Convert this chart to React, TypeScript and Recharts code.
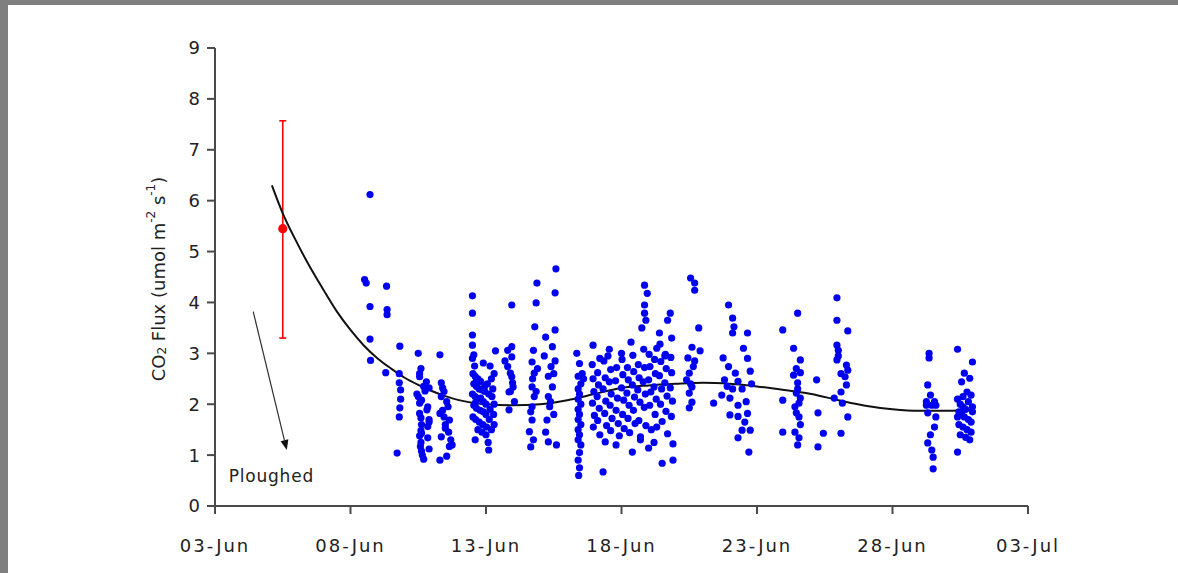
import React from 'react';
import {
  ComposedChart,
  Scatter,
  Line,
  XAxis,
  YAxis,
  ErrorBar,
  ReferenceLine,
  ReferenceDot,
} from 'recharts';

// x values are days after 03-Jun
const dayTicks = [0, 5, 10, 15, 20, 25, 30];
const dayLabels = ['03-Jun', '08-Jun', '13-Jun', '18-Jun', '23-Jun', '28-Jun', '03-Jul'];
const fluxTicks = [0, 1, 2, 3, 4, 5, 6, 7, 8, 9];

// chamber measurements, [day, flux]
const jun08 = [
  [5.52, 4.45], [5.58, 4.38], [5.72, 6.12], [5.72, 3.92], [5.72, 3.28], [5.74, 2.86],
  [6.33, 4.32], [6.35, 3.86], [6.35, 3.76], [6.3, 2.62],
  [6.82, 3.14], [6.8, 2.6], [6.8, 2.42], [6.85, 2.28], [6.82, 1.93], [6.8, 1.75], [6.72, 1.04], [6.85, 2.1],
];

const jun10 = [
  [7.5, 3.0], [7.6, 2.7], [7.55, 2.6], [7.55, 2.54], [7.8, 2.44], [7.9, 2.32], [7.45, 2.2], [7.5, 2.15],
  [7.62, 2.08], [7.55, 2.02], [7.85, 1.95], [7.82, 1.89], [7.55, 1.82], [7.6, 1.73], [7.9, 1.65], [7.85, 1.56],
  [7.6, 1.48], [7.62, 1.43], [7.85, 1.34], [7.6, 1.25], [7.58, 1.17], [7.62, 1.08], [7.65, 1.0], [7.7, 0.92],
  [7.9, 1.7], [7.75, 2.26], [7.7, 2.35], [7.62, 1.6], [7.55, 1.38], [7.9, 1.12],
  [8.3, 2.97], [8.4, 2.32], [8.35, 2.15], [8.6, 1.95], [8.3, 1.82], [8.65, 1.69], [8.5, 1.53], [8.35, 1.36],
  [8.75, 1.2], [8.65, 1.17], [8.55, 0.98], [8.3, 0.9], [8.45, 2.25], [8.55, 2.05], [8.4, 1.88], [8.62, 1.45],
  [8.7, 1.3], [8.5, 1.6], [8.35, 2.42], [8.45, 1.75],
];

const jun12 = [
  [9.5, 4.13], [9.5, 3.79], [9.5, 3.36], [9.5, 3.16], [9.55, 2.97], [9.9, 2.81], [10.15, 2.75], [9.65, 2.47],
  [10.35, 3.05], [9.6, 1.3], [10.1, 1.1], [9.52, 2.6], [9.6, 2.55], [9.7, 2.5], [9.8, 2.45], [9.55, 2.4],
  [9.65, 2.35], [9.75, 2.3], [9.85, 2.28], [9.95, 2.25], [10.05, 2.4], [10.2, 2.5], [10.3, 2.6], [9.5, 2.2],
  [9.6, 2.15], [9.7, 2.1], [9.8, 2.12], [9.9, 2.05], [10.0, 2.0], [10.1, 2.2], [10.25, 2.3], [9.55, 1.98],
  [9.65, 1.92], [9.78, 1.88], [9.9, 1.85], [10.0, 1.8], [10.15, 1.9], [10.3, 2.0], [9.52, 1.75], [9.62, 1.7],
  [9.75, 1.65], [9.88, 1.6], [10.02, 1.55], [10.12, 1.7], [10.28, 1.8], [9.7, 1.5], [9.85, 1.45], [10.0, 1.4],
  [10.2, 1.5], [10.3, 1.6], [9.6, 2.02], [9.95, 2.35], [10.08, 1.25], [9.58, 2.75], [9.5, 2.9], [10.22, 2.15],
  [10.95, 3.95], [10.8, 3.06], [10.95, 3.13], [10.95, 2.93], [10.8, 2.74], [10.9, 2.61], [10.95, 2.54],
  [10.98, 2.42], [11.0, 2.34], [10.9, 2.25], [10.85, 2.24], [10.85, 1.89], [10.7, 2.85], [11.05, 2.05],
];

const jun14 = [
  [11.88, 4.38], [11.85, 3.99], [11.8, 3.52], [12.58, 4.66], [12.55, 4.19], [12.55, 3.46], [12.2, 3.32],
  [11.75, 3.06], [12.45, 3.13], [11.7, 2.83], [12.4, 2.74], [11.78, 2.61], [12.3, 2.55], [11.7, 2.34],
  [12.45, 2.34], [11.78, 2.15], [12.3, 2.15], [11.7, 1.95], [12.35, 1.95], [11.7, 1.69], [12.25, 1.69],
  [11.6, 1.46], [12.3, 1.26], [11.65, 1.16], [12.6, 1.2], [11.72, 2.5], [11.85, 2.25], [12.5, 2.6],
  [12.38, 2.05], [12.5, 1.8], [11.65, 1.85], [12.2, 1.45], [11.75, 1.3], [12.55, 2.85], [12.15, 2.95], [11.9, 2.7],
];

const jun16 = [
  [13.35, 3.0], [13.45, 2.8], [13.4, 2.55], [13.5, 2.4], [13.4, 2.3], [13.45, 2.2], [13.4, 2.1], [13.5, 2.0],
  [13.4, 1.9], [13.45, 1.8], [13.4, 1.7], [13.5, 1.6], [13.4, 1.5], [13.45, 1.4], [13.4, 1.3], [13.5, 1.2],
  [13.45, 1.05], [13.4, 0.9], [13.45, 0.75], [13.42, 0.6], [13.55, 2.6], [13.6, 2.5],
  [15.85, 4.34], [15.95, 4.18], [15.85, 3.95], [15.85, 3.79], [15.9, 3.65], [15.75, 3.5], [16.8, 3.79],
  [16.7, 3.65], [16.85, 3.3], [13.95, 3.16], [14.55, 3.08], [15.35, 3.22], [14.5, 2.95], [15.0, 3.0],
  [14.2, 2.9], [16.3, 3.1], [16.6, 2.95], [16.4, 3.4],
  [14.32, 0.67], [16.5, 0.84], [16.0, 1.14], [15.4, 1.06], [14.4, 1.26], [16.9, 0.9], [14.8, 1.2], [15.7, 1.3], [16.2, 1.25],
  [13.92, 2.78], [13.95, 2.5], [13.98, 2.25], [13.93, 2.02], [14.0, 1.78], [13.96, 1.55],
  [14.12, 2.62], [14.15, 2.38], [14.1, 2.15], [14.18, 1.92], [14.12, 1.68], [14.2, 1.4],
  [14.35, 2.85], [14.4, 2.52], [14.32, 2.3], [14.42, 2.06], [14.38, 1.82], [14.45, 1.58],
  [14.6, 2.68], [14.55, 2.44], [14.62, 2.2], [14.58, 1.98], [14.65, 1.72], [14.6, 1.48],
  [14.82, 2.72], [14.78, 2.46], [14.85, 2.12], [14.8, 1.88], [14.88, 1.62], [14.92, 1.38],
  [15.02, 2.88], [15.05, 2.58], [15.0, 2.32], [15.08, 2.08], [15.04, 1.8], [15.1, 1.52],
  [15.22, 2.72], [15.25, 2.48], [15.2, 2.22], [15.28, 1.98], [15.24, 1.72], [15.3, 1.44],
  [15.42, 2.96], [15.45, 2.64], [15.4, 2.38], [15.48, 2.14], [15.44, 1.88], [15.5, 1.62],
  [15.62, 2.78], [15.65, 2.52], [15.6, 2.28], [15.68, 2.04], [15.64, 1.68], [15.7, 1.36],
  [15.82, 3.08], [15.85, 2.72], [15.8, 2.44], [15.88, 2.2], [15.84, 1.94], [15.9, 1.58],
  [16.02, 2.98], [16.05, 2.74], [16.0, 2.48], [16.08, 2.24], [16.04, 1.98], [16.1, 1.5],
  [16.22, 2.88], [16.25, 2.6], [16.2, 2.34], [16.28, 2.1], [16.24, 1.8], [16.3, 1.55],
  [16.42, 3.18], [16.45, 2.84], [16.4, 2.56], [16.48, 2.3], [16.44, 2.0], [16.5, 1.66],
  [16.62, 2.98], [16.65, 2.7], [16.6, 2.42], [16.68, 2.16], [16.64, 1.86], [16.7, 1.42],
  [16.82, 2.92], [16.85, 2.62], [16.8, 2.32], [16.88, 2.06], [16.84, 1.76], [16.9, 1.22],
];

const jun20 = [
  [17.55, 4.48], [17.7, 4.38], [17.7, 4.24], [17.85, 3.5], [17.6, 3.12], [17.9, 3.05], [17.45, 2.91],
  [17.65, 2.74], [17.5, 2.61], [17.4, 2.48], [17.6, 2.34], [17.5, 2.22], [17.6, 2.04], [17.5, 1.93],
  [17.7, 2.85], [17.55, 2.4],
  [18.95, 3.95], [19.1, 3.69], [19.15, 3.52], [19.1, 3.4], [19.65, 3.4], [19.5, 3.1], [18.75, 2.91],
  [19.65, 2.9], [18.95, 2.74], [19.2, 2.61], [19.75, 2.65], [18.8, 2.48], [19.3, 2.45], [19.8, 2.4],
  [18.7, 2.18], [19.0, 2.12], [19.3, 1.98], [19.6, 2.05], [19.0, 1.79], [19.3, 1.76], [19.65, 1.82],
  [19.45, 1.49], [19.75, 1.49], [19.3, 1.34], [19.7, 1.06], [18.4, 2.02], [19.45, 2.3], [19.1, 2.3],
  [19.55, 1.65], [18.9, 2.35],
];

const jun23 = [
  [20.95, 3.46], [21.5, 3.79], [21.35, 3.1], [21.6, 2.87], [21.35, 2.57], [21.6, 2.62], [21.5, 2.42],
  [21.45, 2.22], [21.55, 2.02], [21.45, 1.83], [21.55, 1.75], [21.4, 1.45], [21.55, 1.34], [21.5, 1.2],
  [20.95, 2.08], [20.95, 1.45], [22.2, 2.48], [22.25, 1.83], [22.45, 1.43], [22.25, 1.16], [21.5, 2.3],
  [21.6, 2.12], [21.4, 1.95], [21.6, 1.6], [21.45, 2.7],
  [22.95, 4.09], [22.95, 3.65], [23.35, 3.44], [22.95, 3.16], [23.0, 3.06], [22.95, 2.87], [23.3, 2.77],
  [23.35, 2.67], [23.25, 2.54], [23.1, 2.6], [23.3, 2.38], [23.1, 2.24], [22.85, 2.12], [23.15, 2.02],
  [23.35, 1.75], [23.1, 1.43], [23.0, 2.95],
];

const jun29 = [
  [26.35, 3.0], [26.35, 2.91], [26.3, 2.38], [26.4, 2.18], [26.25, 1.98], [26.6, 1.98], [26.45, 1.98],
  [26.3, 1.83], [26.6, 1.75], [26.55, 1.55], [26.3, 1.24], [26.45, 1.1], [26.5, 0.96], [26.5, 0.73],
  [26.55, 2.05], [26.25, 2.05], [26.4, 1.4],
  [27.4, 3.08], [27.95, 2.83], [27.65, 2.61], [27.85, 2.51], [27.55, 2.44], [27.75, 2.24], [27.9, 2.18],
  [27.4, 1.06], [27.4, 2.1], [27.5, 2.0], [27.6, 1.95], [27.7, 1.9], [27.8, 2.05], [27.95, 1.95],
  [27.45, 1.85], [27.55, 1.8], [27.65, 1.75], [27.8, 1.7], [27.9, 1.65], [27.45, 1.6], [27.6, 1.55],
  [27.75, 1.5], [27.9, 1.45], [27.5, 1.4], [27.7, 1.35], [27.85, 1.3], [27.6, 2.15], [27.95, 1.85], [27.4, 1.75],
];

// fitted trend
const trendDays = [2.1, 2.5, 3, 3.5, 4, 4.5, 5, 5.5, 6, 6.5, 7, 7.5, 8, 8.5, 9, 10, 11, 12, 13, 14, 15, 16, 17, 18, 19, 20, 21, 22, 23, 24, 25, 26, 27, 28];
const trendFlux = [6.3, 5.75, 5.2, 4.7, 4.25, 3.82, 3.46, 3.15, 2.9, 2.7, 2.52, 2.38, 2.26, 2.16, 2.08, 2.0, 1.98, 2.0, 2.08, 2.2, 2.32, 2.37, 2.4, 2.42, 2.4, 2.35, 2.28, 2.2, 2.08, 1.97, 1.9, 1.87, 1.87, 1.89];

// mean flux right after ploughing, with its range
const meanDay = 2.5;
const meanFlux = 5.45;
const meanLow = 3.3;
const meanHigh = 7.57;

// "Ploughed" note and its arrow
const arrowFrom = { day: 1.41, flux: 3.82 };
const arrowTo = { day: 2.65, flux: 1.1 };
const noteAt = { day: 2.08, flux: 0.59 };

const points = [...jun08, ...jun10, ...jun12, ...jun14, ...jun16, ...jun20, ...jun23, ...jun29].map(
  ([day, flux]) => ({ day, flux })
);
const trend = trendDays.map((day, i) => ({ day, flux: trendFlux[i] }));
const mean = [{ day: meanDay, flux: meanFlux, err: [meanFlux - meanLow, meanHigh - meanFlux] }];

const FONT = 'Verdana, "DejaVu Sans", sans-serif';
const TEXT = '#222';
const AXIS = '#4a4a4a';

const XTick = ({ x, y, payload }: any) => {
  const i = dayTicks.indexOf(payload.value);
  return (
    <text x={x} y={y} dy="0.71em" textAnchor="middle" fontFamily={FONT} fontSize={18} fill={TEXT} letterSpacing={2}>
      {dayLabels[i]}
    </text>
  );
};

const YTick = ({ x, y, payload }: any) => (
  <text x={x} y={y} dy="0.36em" textAnchor="end" fontFamily={FONT} fontSize={18} fill={TEXT}>
    {payload.value}
  </text>
);

const YTitle = ({ viewBox }: any) => {
  const cx = viewBox.x + 8;
  const cy = viewBox.y + viewBox.height / 2 + 2;
  return (
    <text
      x={cx}
      y={cy}
      transform={`rotate(-90, ${cx}, ${cy})`}
      textAnchor="middle"
      dominantBaseline="central"
      fontFamily={FONT}
      fontSize={18}
      fill={TEXT}
    >
      CO<tspan fontSize={12} dy={4}>2</tspan>
      <tspan dy={-4}> Flux (umol m</tspan>
      <tspan fontSize={12} dy={-7}>-2</tspan>
      <tspan dy={7}> s</tspan>
      <tspan fontSize={12} dy={-7}>-1</tspan>
      <tspan dy={7}>)</tspan>
    </text>
  );
};

const Arrow = ({ x1, y1, x2, y2 }: any) => {
  const ang = Math.atan2(y2 - y1, x2 - x1);
  const len = 10;
  const half = 4;
  const bx = x2 - len * Math.cos(ang);
  const by = y2 - len * Math.sin(ang);
  const px = -Math.sin(ang) * half;
  const py = Math.cos(ang) * half;
  return (
    <g>
      <line x1={x1} y1={y1} x2={bx} y2={by} stroke="#333" strokeWidth={1.2} />
      <polygon points={`${x2},${y2} ${bx + px},${by + py} ${bx - px},${by - py}`} fill="#111" />
    </g>
  );
};

const BlueDot = (p: any) => <circle cx={p.cx} cy={p.cy} r={3.6} fill="#0000f0" />;
const RedDot = (p: any) => <circle cx={p.cx} cy={p.cy} r={4.6} fill="#ff0000" />;

export default function App() {
  return (
    <div style={{ position: 'absolute', left: 0, top: 0, width: 1178, height: 573, background: '#7f7f7f', overflow: 'hidden' }}>
      <div style={{ position: 'absolute', left: 8, top: 5, width: 1170, height: 568, background: '#ffffff' }} />
      <div style={{ position: 'absolute', left: 0, top: 0 }}>
        <ComposedChart width={1178} height={573} margin={{ top: 48, right: 150, bottom: 7, left: 150 }}>
          <XAxis
            type="number"
            dataKey="day"
            domain={[0, 30]}
            ticks={dayTicks}
            interval={0}
            height={60}
            stroke={AXIS}
            strokeWidth={2}
            tickSize={8}
            tickMargin={25}
            tick={<XTick />}
            allowDataOverflow
          />
          <YAxis
            type="number"
            dataKey="flux"
            domain={[0, 9]}
            ticks={fluxTicks}
            interval={0}
            width={65}
            stroke={AXIS}
            strokeWidth={2}
            tickSize={8}
            tickMargin={7}
            tick={<YTick />}
            label={(props: any) => <YTitle {...props} />}
          />
          <ReferenceLine
            segment={[
              { x: arrowFrom.day, y: arrowFrom.flux },
              { x: arrowTo.day, y: arrowTo.flux },
            ]}
            shape={(p: any) => <Arrow {...p} />}
          />
          <ReferenceDot
            x={noteAt.day}
            y={noteAt.flux}
            r={1}
            fill="none"
            stroke="none"
            label={{ value: 'Ploughed', position: 'center', fontFamily: FONT, fontSize: 17, fill: '#222', letterSpacing: 0.8 }}
          />
          <Scatter data={points} shape={BlueDot} isAnimationActive={false} />
          <Scatter data={mean} shape={RedDot} isAnimationActive={false}>
            <ErrorBar dataKey="err" direction="y" width={3.5} stroke="#ff0000" strokeWidth={1.6} isAnimationActive={false} />
          </Scatter>
          <Line
            data={trend}
            dataKey="flux"
            type="monotone"
            stroke="#111"
            strokeWidth={2}
            dot={false}
            activeDot={false}
            isAnimationActive={false}
          />
        </ComposedChart>
      </div>
    </div>
  );
}
